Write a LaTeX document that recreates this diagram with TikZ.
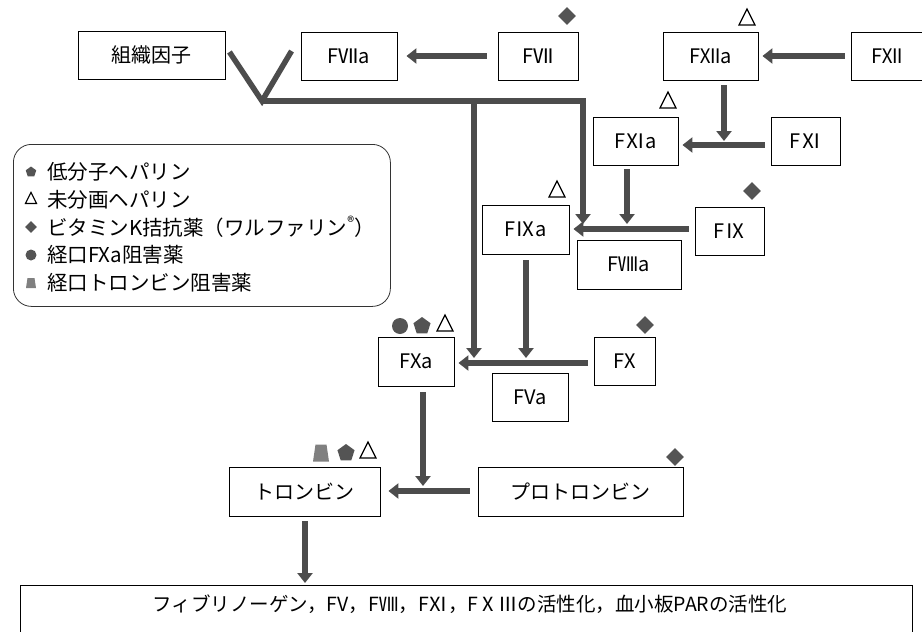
\documentclass[tikz,border=0pt]{standalone}
\usepackage{fontspec}
\setmainfont{Noto Sans CJK JP}
\usetikzlibrary{arrows.meta,shapes.geometric,calc}
\definecolor{arr}{gray}{0.30}
\definecolor{markc}{gray}{0.33}
\begin{document}
\begin{tikzpicture}[x=1pt,y=-1pt,
  box/.style={draw=black, line width=0.9pt, minimum height=48pt, inner sep=0pt, font=\fontsize{20}{24}\selectfont},
  flow/.style={draw=arr, line width=6pt, -{Triangle[width=15pt,length=10pt]}},
  link/.style={draw=arr, line width=5.5pt},
  dia/.style={diamond, fill=markc, minimum size=#1, inner sep=0pt}, dia/.default=18pt,
  tri/.style={isosceles triangle, isosceles triangle stretches, shape border rotate=90, draw=black, fill=white, line width=1.2pt, minimum height=#1, minimum width=#1, inner sep=0pt}, tri/.default=16pt,
  pent/.style={regular polygon, regular polygon sides=5, fill=markc, minimum size=#1, inner sep=0pt}, pent/.default=18pt,
  circ/.style={circle, fill=markc, minimum size=#1, inner sep=0pt}, circ/.default=16pt,
  trapfill/.style={fill=black!50},
  legtext/.style={anchor=west, inner sep=0pt, font=\fontsize{20.5}{24}\selectfont}
]
\useasboundingbox (0,0) rectangle (922,632);
\clip (0,0) rectangle (922,632);

% boxes
\node[box, minimum width=147pt] (tf) at (151.5,55) {組織因子};
\node[box, minimum width=96pt] (f7a) at (349,56) {FⅦa};
\node[box, minimum width=80pt] (f7) at (538,56) {FⅦ};
\node[box, minimum width=95pt] (f12a) at (710.5,56) {FⅫa};
\node[box, minimum width=72pt] (f12) at (887,56) {FⅫ};
\node[box, minimum width=85pt] (f11a) at (635.5,141) {FⅪa};
\node[box, minimum width=69pt] (f11) at (805.5,141) {FⅪ};
\node[box, minimum width=87pt, minimum height=49pt] (f9a) at (525.5,229.5) {FⅨa};
\node[box, minimum width=69pt] (f9) at (729.5,231) {FⅨ};
\node[box, minimum width=104pt, minimum height=49pt] (f8a) at (629,264.5) {FⅧa};
\node[box, minimum width=76pt, minimum height=49pt] (fxa) at (416,361.5) {FXa};
\node[box, minimum width=61pt] (fx) at (624.5,361) {FX};
\node[box, minimum width=76pt] (fva) at (530,397) {FVa};
\node[box, minimum width=151pt, minimum height=49pt] (th) at (304.5,491.5) {トロンビン};
\node[box, minimum width=205pt, minimum height=49pt] (pth) at (580.5,491.5) {プロトロンビン};
\node[box, minimum width=892pt, minimum height=80pt, anchor=north west] (res) at (20,585) {};
\node[inner sep=0pt, font=\fontsize{19.5}{22}\selectfont] (restext) at (470,604) {フィブリノーゲン，FV，FⅧ，FⅪ，FⅩⅢの活性化，血小板PARの活性化};

% legend
\node[draw=black!80, line width=0.8pt, rounded corners=18pt, minimum width=377pt, minimum height=162pt, anchor=north west, inner sep=0pt] (legend) at (13,144) {};
\node[pent=11pt] (lg1) at (31,172) {};
\node[tri=11pt] (lg2) at (31,200) {};
\node[dia=12pt] (lg3) at (31,227) {};
\node[circ=11pt] (lg4) at (31,255) {};
\coordinate (lg5) at (31,283);
\fill[trapfill] ($(lg5)+(-5,5)$) -- ($(lg5)+(5,5)$) -- ($(lg5)+(3.5,-5)$) -- ($(lg5)+(-3.5,-5)$) -- cycle;
\node[legtext] (lt1) at (47,172) {低分子ヘパリン};
\node[legtext] (lt2) at (47,200) {未分画ヘパリン};
\node[legtext] (lt3) at (47,227) {ビタミンK拮抗薬（ワルファリン\textsuperscript{®}）};
\node[legtext] (lt4) at (47,255) {経口FXa阻害薬};
\node[legtext] (lt5) at (47,283) {経口トロンビン阻害薬};

% markers
\node[dia] (m7) at (567,16) {};
\node[tri] (m12a) at (747,20) {};
\node[tri] (m11a) at (668,103) {};
\node[tri] (m9a) at (557,192) {};
\node[dia] (m9) at (752,191) {};
\node[dia] (mx) at (645,325) {};
\node[circ] (mxa1) at (400,326) {};
\node[pent] (mxa2) at (422,326) {};
\node[tri] (mxa3) at (445,326) {};
\coordinate (mth1) at (321,453);
\fill[trapfill] ($(mth1)+(-8,8.5)$) -- ($(mth1)+(8,8.5)$) -- ($(mth1)+(5.5,-8.5)$) -- ($(mth1)+(-5.5,-8.5)$) -- cycle;
\node[pent] (mth2) at (346,453) {};
\node[tri] (mth3) at (368,453) {};
\node[dia] (mpth) at (675,457) {};

% junction coordinates
\coordinate (j1) at (724,145);
\coordinate (j2) at (627,229);
\coordinate (j3) at (583,224);
\coordinate (v1) at (262,101);
\coordinate (b1) at (474,98);
\coordinate (j4) at (474,358);
\coordinate (j5) at (526,358);
\coordinate (h5) at (600,363);
\coordinate (j6) at (423,486);
\coordinate (h6) at (450,491);

% connectors
\draw[flow] ($(f7.west)+(-11,0)$) -- ($(f7a.east)+(9,0)$);
\draw[flow] ($(f12.west)+(-6,0)$) -- ($(f12a.east)+(4,0)$);
\draw[flow] ($(f12a.south -| j1)+(0,5)$) -- ($(j1)+(0,-4)$);
\draw[flow] ($(f11.west |- j1)+(-6,0)$) -- ($(f11a.east |- j1)+(4,0)$);
\draw[flow] ($(f11a.south -| j2)+(0,4)$) -- ($(j2)+(0,-5)$);
\draw[flow] ($(f9.west |- j2)+(-6,0)$) -- ($(f9a.east |- j2)+(4,0)$);
\draw[link, line join=miter] ($(tf.east)+(4,-3)$) -- (v1) -- ($(f7a.west)+(-9,-5)$);
\draw[flow] (v1) -| (j3);
\draw[flow] (b1) -- (j4);
\draw[flow] ($(f9a.south -| j5)+(0,6)$) -- (j5);
\draw[flow] ($(fx.west |- h5)+(-6,0)$) -- ($(fxa.east |- h5)+(4,0)$);
\draw[flow] ($(fxa.south -| j6)+(0,6)$) -- (j6);
\draw[flow] ($(pth.west |- h6)+(-8,0)$) -- ($(th.east |- h6)+(8,0)$);
\draw[flow] ($(th.south)+(0.5,5)$) -- ($(res.north -| th.south)+(0.5,-2)$);
\end{tikzpicture}
\end{document}
